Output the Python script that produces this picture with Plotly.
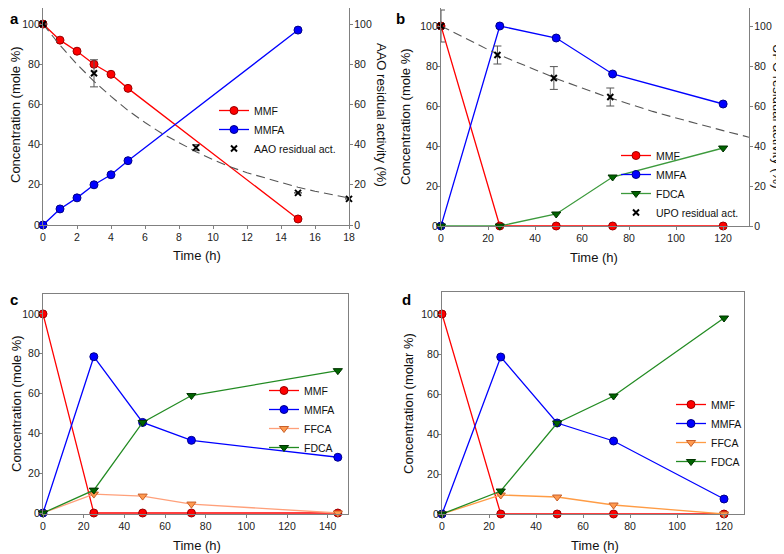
import plotly.graph_objects as go

# ---- panel a: AAO ----
a_time = [0, 1, 2, 3, 4, 5, 15]
a_mmf = [100, 92, 86.5, 80, 75, 68, 3]
a_mmfa = [0, 8, 13.5, 20, 25, 32, 97]
a_act_time = [0, 3, 9, 15, 18]
a_act = [100, 75.5, 38.5, 16, 13]
a_act_err = [0, 6.75, 1.5, 0, 0]
a_fit_time = [0, 1, 2, 3, 4, 5, 6, 7, 8, 9, 10, 11, 12, 13, 14, 15, 16, 17, 18]
a_fit = [100, 89.5, 80, 71.5, 64, 57, 51, 45.5, 41, 36.5, 32.5, 29, 26, 23.5, 21, 18.8, 16.8, 15, 13.4]

# ---- panel b: UPO ----
b_time = [0, 25, 49, 73, 120]
b_mmf = [100, 0, 0, 0, 0]
b_mmfa = [0, 100, 94, 76, 61]
b_fdca = [0, 0, 6, 24.5, 39]
b_act_time = [0, 24, 48, 72]
b_act = [100, 85.5, 74, 64.5]
b_act_err = [8, 4.5, 5.7, 4.5]
b_fit_time = [0, 10, 20, 30, 40, 50, 60, 70, 80, 90, 100, 110, 120, 131]
b_fit = [100, 94, 88.2, 83, 78, 73.3, 69, 64.8, 61, 57.3, 54, 50.7, 47.7, 44.4]

# ---- panel c ----
c_time = [0, 25, 49, 73, 145]
c_mmf = [100, 0, 0, 0, 0]
c_mmfa = [0, 78.5, 45.5, 36.5, 28]
c_ffca = [0, 9.5, 8.5, 4.5, 0]
c_fdca = [0, 11.5, 45.5, 59, 71.5]

# ---- panel d ----
d_time = [0, 25, 49, 73, 120]
d_mmf = [100, 0, 0, 0, 0]
d_mmfa = [0, 78.5, 45.5, 36.5, 7.5]
d_ffca = [0, 9.5, 8.5, 4.5, 0]
d_fdca = [0, 11.5, 45.5, 59, 98]

# the page body keeps its default 8px margin, so the figure is drawn 8px smaller
# and every position below is given in window pixels, then shifted
PAGE_W, PAGE_H, BODY = 784, 554, 8
W, H = PAGE_W - BODY, PAGE_H - BODY
FONT = "Liberation Sans, Arial, sans-serif"
FRAME = "#808080"


def px_x(p):
    return (p - BODY) / W


def px_y(p):
    return 1 - (p - BODY) / H


def add_series(fig, x, y, name, line_color, fill, edge, symbol, xa, ya, legend, size=8):
    fig.add_trace(
        go.Scatter(
            x=x,
            y=y,
            mode="lines+markers",
            name=name,
            line={"color": line_color, "width": 1.3},
            marker={"symbol": symbol, "size": size, "color": fill, "line": {"color": edge, "width": 1}},
            xaxis=xa,
            yaxis=ya,
            legend=legend,
            cliponaxis=False,
        )
    )


def add_activity(fig, fx, fy, x, y, err, name, xa, ya, legend):
    fig.add_trace(
        go.Scatter(
            x=fx, y=fy, mode="lines", line={"color": "#555555", "width": 1.1, "dash": "9px,5px"},
            xaxis=xa, yaxis=ya, showlegend=False, hoverinfo="skip", legend=legend,
        )
    )
    fig.add_trace(
        go.Scatter(
            x=x, y=y, mode="markers", name=name,
            marker={"symbol": "x-thin", "size": 6, "color": "black", "line": {"color": "black", "width": 2}},
            error_y={"type": "data", "array": err, "visible": True, "color": "#555555", "thickness": 1, "width": 4},
            xaxis=xa, yaxis=ya, legend=legend, cliponaxis=False,
        )
    )


fig = go.Figure()

RED, RED_E = "#ff0000", "#990000"
BLUE, BLUE_E = "#0000ff", "#000088"
GRN_F, GRN_E = "#006400", "#003300"

# panel a
add_series(fig, a_time, a_mmf, "MMF", RED, RED, RED_E, "circle", "x", "y", "legend5")
add_series(fig, a_time, a_mmfa, "MMFA", BLUE, BLUE, BLUE_E, "circle", "x", "y", "legend5")
add_activity(fig, a_fit_time, a_fit, a_act_time, a_act, a_act_err, "AAO residual act.", "x", "y2", "legend5")

# panel b
add_series(fig, b_time, b_mmf, "MMF", RED, RED, RED_E, "circle", "x2", "y3", "legend2")
add_series(fig, b_time, b_mmfa, "MMFA", BLUE, BLUE, BLUE_E, "circle", "x2", "y3", "legend2")
add_series(fig, b_time, b_fdca, "FDCA", "#3c9a3c", GRN_F, GRN_E, "triangle-down", "x2", "y3", "legend2")
add_activity(fig, b_fit_time, b_fit, b_act_time, b_act, b_act_err, "UPO residual act.", "x2", "y4", "legend2")

# panel c
add_series(fig, c_time, c_mmf, "MMF", RED, RED, RED_E, "circle", "x3", "y5", "legend3")
add_series(fig, c_time, c_mmfa, "MMFA", BLUE, BLUE, BLUE_E, "circle", "x3", "y5", "legend3")
add_series(fig, c_time, c_ffca, "FFCA", "#ffa07a", "#ff9a50", "#c8602a", "triangle-down", "x3", "y5", "legend3")
add_series(fig, c_time, c_fdca, "FDCA", "#228b22", GRN_F, GRN_E, "triangle-down", "x3", "y5", "legend3")

# panel d
add_series(fig, d_time, d_mmf, "MMF", RED, RED, RED_E, "circle", "x4", "y6", "legend4")
add_series(fig, d_time, d_mmfa, "MMFA", BLUE, BLUE, BLUE_E, "circle", "x4", "y6", "legend4")
add_series(fig, d_time, d_ffca, "FFCA", "#ff9c45", "#ff9a50", "#c8602a", "triangle-down", "x4", "y6", "legend4")
add_series(fig, d_time, d_fdca, "FDCA", "#228b22", GRN_F, GRN_E, "triangle-down", "x4", "y6", "legend4")

axis_style = dict(
    showline=True, linecolor=FRAME, linewidth=1.3, mirror=True, ticks="outside", ticklen=3,
    tickcolor=FRAME, tickwidth=1, tickfont={"size": 10.5, "color": "#222"}, showgrid=False,
    zeroline=False, automargin=False,
)
x_style = dict(axis_style, ticklabelstandoff=-1)
yl_style = dict(axis_style, ticklabelstandoff=-3)
yr_style = dict(axis_style, ticklabelstandoff=-1, mirror=False, side="right")
y_ticks = [0, 20, 40, 60, 80, 100]

# top panels start at the page's 8px body edge, so their ranges end a little lower
layout = dict(
    width=W, height=H, template="none", paper_bgcolor="white", plot_bgcolor="white",
    margin={"l": 0, "r": 0, "t": 0, "b": 0}, font={"family": FONT, "color": "#111"},
    xaxis=dict(x_style, domain=[px_x(43), px_x(349)], range=[0, 18], dtick=2, anchor="y"),
    yaxis=dict(yl_style, domain=[px_y(225), px_y(8)], range=[0, 108], tickvals=y_ticks, anchor="x"),
    yaxis2=dict(yr_style, overlaying="y", anchor="x", range=[0, 108], tickvals=y_ticks),
    xaxis2=dict(x_style, domain=[px_x(441), px_x(749)], range=[0, 131], tickvals=[0, 20, 40, 60, 80, 100, 120],
                anchor="y3"),
    yaxis3=dict(yl_style, domain=[px_y(226), px_y(8)], range=[0, 109], tickvals=y_ticks, anchor="x2"),
    yaxis4=dict(yr_style, overlaying="y3", anchor="x2", range=[0, 109], tickvals=y_ticks),
    xaxis3=dict(x_style, domain=[px_x(43), px_x(348)], range=[0, 150], tickvals=[0, 20, 40, 60, 80, 100, 120, 140],
                anchor="y5"),
    yaxis5=dict(yl_style, domain=[px_y(514), px_y(294)], range=[-0.5, 110], tickvals=y_ticks, anchor="x3"),
    xaxis4=dict(x_style, domain=[px_x(442), px_x(744)], range=[0, 128.5], tickvals=[0, 20, 40, 60, 80, 100, 120],
                anchor="y6"),
    yaxis6=dict(yl_style, domain=[px_y(514), px_y(292)], range=[0, 111], tickvals=y_ticks, anchor="x4"),
)

leg_style = dict(bgcolor="rgba(0,0,0,0)", borderwidth=0, font={"size": 10.5, "color": "#111"},
                 xanchor="left", yanchor="top", itemclick=False, tracegroupgap=0)
layout["legend5"] = dict(leg_style, x=px_x(214), y=px_y(96))
layout["legend2"] = dict(leg_style, x=px_x(616), y=px_y(141))
layout["legend3"] = dict(leg_style, x=px_x(264), y=px_y(376))
layout["legend4"] = dict(leg_style, x=px_x(671), y=px_y(390))

fig.update_layout(**layout)

# panel letters
for letter, lx, ly in [("a", 8, 8), ("b", 394, 8), ("c", 8, 289), ("d", 400, 289)]:
    fig.add_annotation(text=f"<b>{letter}</b>", x=px_x(lx), y=px_y(ly), xref="paper", yref="paper",
                       xanchor="left", yanchor="top", showarrow=False, font={"size": 15, "color": "black"})

TITLE_FONT = {"size": 13, "color": "#111"}

# axis titles (placed to match the original layout)
for text, cx, cy, angle in [
    ("Time (h)", 197, 256, 0),
    ("Time (h)", 594, 258, 0),
    ("Time (h)", 197, 545, 0),
    ("Time (h)", 595, 545, 0),
    ("Concentration (mole %)", 16, 115, -90),
    ("Concentration (mole %)", 406, 116, -90),
    ("Concentration (mole %)", 16, 404, -90),
    ("Concentration (molar %)", 408, 403, -90),
    ("AAO residual activity (%)", 381, 115, 90),
    ("UPO residual activity (%)", 777, 116, 90),
]:
    fig.add_annotation(text=text, x=px_x(cx), y=px_y(cy), xref="paper", yref="paper", textangle=angle,
                       xanchor="center", yanchor="middle", showarrow=False, font=TITLE_FONT)

fig.write_html("out.html")
